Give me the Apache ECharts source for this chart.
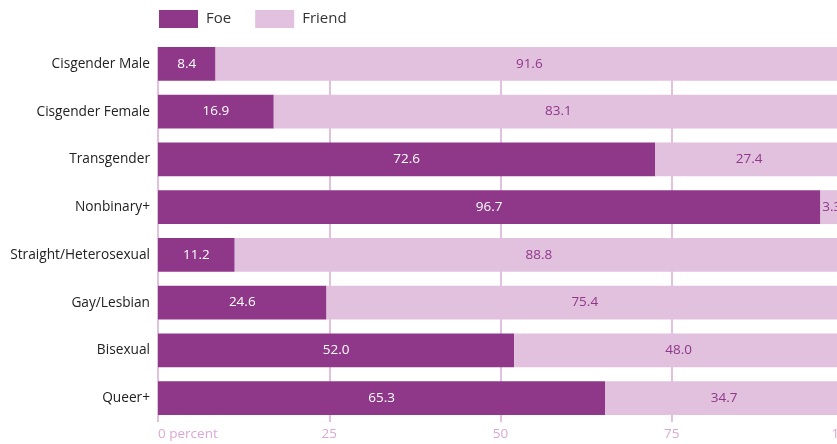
<!DOCTYPE html>
<html lang="en">
  <head>
    <meta charset="UTF-8" />
    <title>Foe or Friend</title>
    <script src="https://cdn.jsdelivr.net/npm/echarts@6/dist/echarts.min.js"></script>
    <style>
      html, body { margin: 0; padding: 0; background: #fff; }
    </style>
  </head>
  <body>
    <div id="main" style="width: 837px; height: 444px;"></div>
    <script type="text/javascript">
      // categories, top to bottom
      var categories = [
        "Cisgender Male",
        "Cisgender Female",
        "Transgender",
        "Nonbinary+",
        "Straight/Heterosexual",
        "Gay/Lesbian",
        "Bisexual",
        "Queer+"
      ];
      var foe = [8.4, 16.9, 72.6, 96.7, 11.2, 24.6, 52.0, 65.3];
      var friend = [91.6, 83.1, 27.4, 3.3, 88.8, 75.4, 48.0, 34.7];
      var tickLabels = { 0: "0 percent", 25: "25", 50: "50", 75: "75", 100: "100" };

      var dark = "#8f3889";
      var light = "#e2c1de";
      var font = "'Open Sans', 'Noto Sans', sans-serif";

      var myChart = echarts.init(document.getElementById("main"));
      var option = {
        animation: false,
        textStyle: { fontFamily: font },
        legend: {
          left: 159,
          top: 10,
          padding: 0,
          itemWidth: 39,
          itemHeight: 18,
          itemGap: 24,
          icon: "rect",
          textStyle: { fontSize: 15, color: "#333", fontFamily: font, padding: [0, 0, 0, 3] },
          data: ["Foe", "Friend"]
        },
        grid: [
          // bars
          { left: 158, right: -6, top: 40, bottom: 22, outerBoundsMode: "none" },
          // grid lines only (start at the top of the first bar)
          { left: 158, right: -6, top: 47, bottom: 22, outerBoundsMode: "none" }
        ],
        xAxis: [
          {
            type: "value",
            gridIndex: 0,
            min: 0,
            max: 100,
            interval: 25,
            axisLine: { show: false },
            axisTick: { show: false },
            splitLine: { show: false },
            axisLabel: {
              color: "#d9a9d3",
              fontSize: 13.5,
              margin: 5,
              alignMinLabel: "left",
              formatter: function (v) { return tickLabels[v]; }
            }
          },
          {
            type: "value",
            gridIndex: 1,
            min: 0,
            max: 100,
            interval: 25,
            axisLine: { show: false },
            axisTick: { show: false },
            axisLabel: { show: false },
            splitLine: { show: true, lineStyle: { color: light, width: 2 } }
          }
        ],
        yAxis: [
          {
            type: "category",
            gridIndex: 0,
            inverse: true,
            data: categories,
            axisLine: { show: false },
            axisTick: { show: false },
            axisLabel: { color: "#222", fontSize: 13.7, margin: 8 }
          },
          {
            type: "value",
            gridIndex: 1,
            show: false,
            splitLine: { show: false }
          }
        ],
        series: [
          {
            name: "Foe",
            type: "bar",
            stack: "total",
            data: foe,
            barCategoryGap: "29%",
            itemStyle: { color: dark },
            label: {
              show: true,
              position: "inside",
              color: "#fff",
              fontSize: 13.5,
              formatter: function (p) { return p.value.toFixed(1); }
            }
          },
          {
            name: "Friend",
            type: "bar",
            stack: "total",
            data: friend,
            barCategoryGap: "29%",
            itemStyle: { color: light },
            label: {
              show: true,
              position: "inside",
              color: dark,
              fontSize: 13.5,
              formatter: function (p) { return p.value.toFixed(1); }
            }
          }
        ]
      };
      myChart.setOption(option);
    </script>
  </body>
</html>
